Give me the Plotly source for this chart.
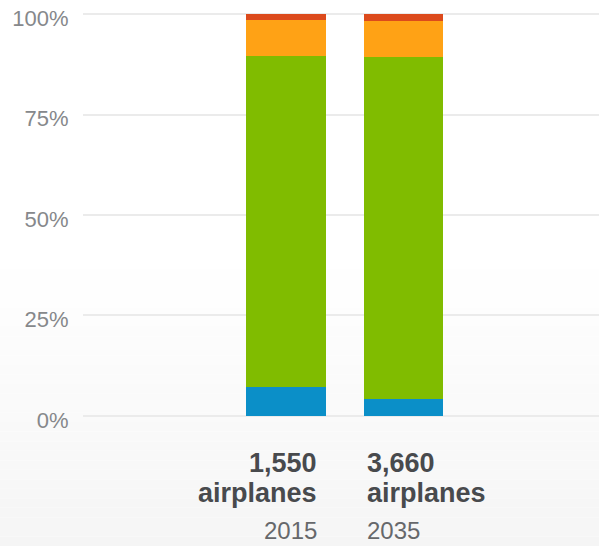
import numpy as np
import plotly.graph_objects as go

# Fleet composition by segment (share of fleet, %)
years = ["2015", "2035"]
fleet_sizes = ["1,550", "3,660"]
seg_blue = [7.1, 4.2]
seg_green = [82.4, 85.0]
seg_orange = [9.0, 9.1]
seg_red = [1.5, 1.7]
y_ticks = [0, 25, 50, 75, 100]
y_tick_labels = ["0%", "25%", "50%", "75%", "100%"]

colors = ["#0b8fc8", "#80bc00", "#ffa215", "#dc4a1c"]
series = [seg_blue, seg_green, seg_orange, seg_red]

fig = go.Figure()
for vals, col in zip(series, colors):
    fig.add_trace(go.Bar(
        x=years, y=vals, marker=dict(color=col, line=dict(width=0)),
        width=0.675, hoverinfo="skip", showlegend=False,
    ))

# soft light-grey wash towards the bottom of the page
shapes = []
n_bands = 30
edges = np.linspace(260, 546, n_bands + 1)
for i in range(n_bands):
    g = int(round(255 - 10 * (i + 0.5) / n_bands))
    y0 = (420 - edges[i]) / 410
    y1 = (420 - edges[i + 1]) / 410
    shapes.append(dict(type="rect", xref="paper", yref="paper",
                       x0=-0.3, x1=1.1, y0=y1, y1=y0,
                       fillcolor=f"rgb({g},{g},{g})", line=dict(width=0),
                       layer="below"))

annotations = []
font_bold = dict(family="Liberation Sans, Arial, sans-serif", size=27, color="#484a4d")
font_reg = dict(family="Liberation Sans, Arial, sans-serif", size=24, color="#66686b")
for i, (yr, n) in enumerate(zip(years, fleet_sizes)):
    anchor = "right" if i == 0 else "left"
    xs = 33 if i == 0 else -39
    for text, fnt, ys in [(f"<b>{n}</b>", font_bold, -47),
                          ("<b>airplanes</b>", font_bold, -77),
                          (yr, font_reg, -115)]:
        annotations.append(dict(
            x=i, y=0, xref="x", yref="y", text=text, showarrow=False,
            xanchor=anchor, yanchor="middle", xshift=xs, yshift=ys, font=fnt,
        ))

fig.update_layout(
    barmode="stack",
    width=599, height=546,
    margin=dict(l=83, r=0, t=10, b=126),
    paper_bgcolor="white",
    plot_bgcolor="rgba(0,0,0,0)",
    shapes=shapes,
    annotations=annotations,
    xaxis=dict(range=[-1.725, 2.659], showticklabels=False, showgrid=False,
               zeroline=False, showline=False, fixedrange=True),
    yaxis=dict(range=[-1, 101], tickvals=y_ticks, ticktext=y_tick_labels,
               showgrid=True, gridcolor="#ebebeb", gridwidth=1.5,
               zeroline=False, showline=False,
               ticks="outside", ticklen=9, tickcolor="rgba(0,0,0,0)",
               ticklabelshift=4,
               tickfont=dict(family="Liberation Sans, Arial, sans-serif",
                             size=22, color="#86888b")),
)

fig.write_html("out.html")
